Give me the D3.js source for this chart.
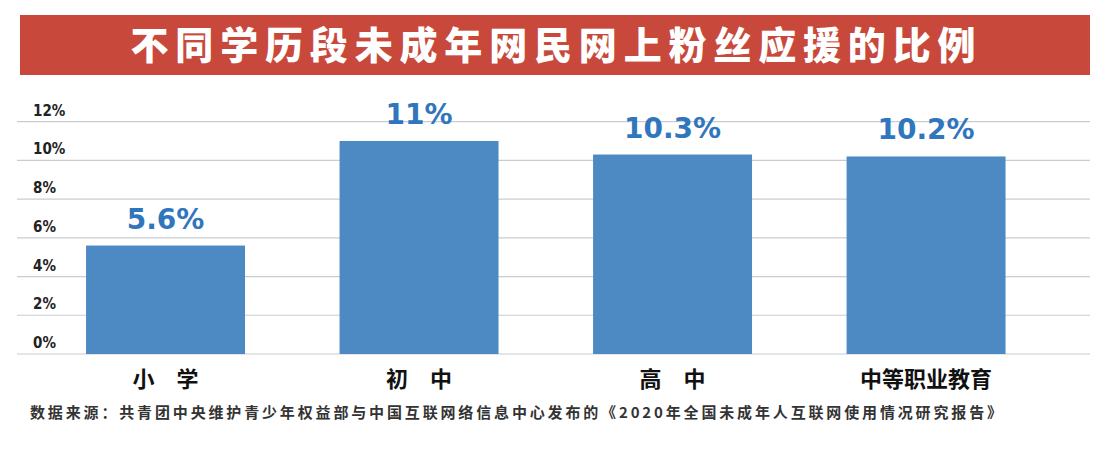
<!DOCTYPE html><html><head><meta charset="utf-8"><script src="https://cdn.jsdelivr.net/npm/d3@7"></script>
<style>body{margin:0;background:#fff}</style></head><body><svg id="c" width="1110" height="450"></svg><script>
const categories=["小　学","初　中","高　中","中等职业教育"];
const values=[5.6,11,10.3,10.2];
const valueLabels=["5.6%","11%","10.3%","10.2%"];
const ticks=[0,2,4,6,8,10,12];
const title="不同学历段未成年网民网上粉丝应援的比例";
const source="数据来源：共青团中央维护青少年权益部与中国互联网络信息中心发布的《2020年全国未成年人互联网使用情况研究报告》";
const svg=d3.select("#c");
const F="'Noto Sans CJK SC','Noto Sans',sans-serif";
svg.append("rect").attr("x",20).attr("y",15).attr("width",1070).attr("height",60).attr("fill","#c8493b");
svg.append("text").attr("x",553).attr("y",59).attr("text-anchor","middle").attr("fill","#fff").attr("font-family",F).attr("font-weight",900).attr("font-size",38).attr("textLength",845).attr("lengthAdjust","spacing").text(title);
const y=d3.scaleLinear().domain([0,12]).range([354,121.6]);
const x=d3.scaleBand().domain(categories).range([10,1081.6]).paddingInner(0.373).paddingOuter(0.3);
const g=svg.append("g");
g.selectAll("line.g").data(ticks).enter().append("line").attr("x1",17).attr("x2",1090).attr("y1",d=>y(d)).attr("y2",d=>y(d)).attr("stroke","#c9ccd2").attr("stroke-width",1.2);
g.selectAll("text.t").data(ticks).enter().append("text").attr("x",33).attr("y",d=>y(d)-6).attr("font-family","'DejaVu Sans Condensed','Liberation Sans Narrow',sans-serif").attr("font-weight",700).attr("font-size",15).attr("fill","#222").text(d=>d+"%");
g.selectAll("rect.b").data(values).enter().append("rect").attr("x",(d,i)=>x(categories[i])).attr("width",x.bandwidth()).attr("y",d=>y(d)).attr("height",d=>y(0)-y(d)).attr("fill","#4d89c2");
g.selectAll("text.v").data(values).enter().append("text").attr("x",(d,i)=>x(categories[i])+x.bandwidth()/2).attr("y",d=>y(d)-17).attr("text-anchor","middle").attr("font-family","'DejaVu Sans',sans-serif").attr("font-weight",700).attr("font-size",28).attr("fill","#2f76bd").text((d,i)=>valueLabels[i]);
g.selectAll("text.c").data(categories).enter().append("text").attr("x",d=>x(d)+x.bandwidth()/2).attr("y",387).attr("text-anchor","middle").attr("font-family",F).attr("font-weight",700).attr("font-size",22).attr("fill","#111").text(d=>d);
svg.append("text").attr("x",30).attr("y",418).attr("font-family",F).attr("font-weight",700).attr("font-size",15).attr("fill","#333").attr("textLength",972).attr("lengthAdjust","spacing").text(source);
</script></body></html>
